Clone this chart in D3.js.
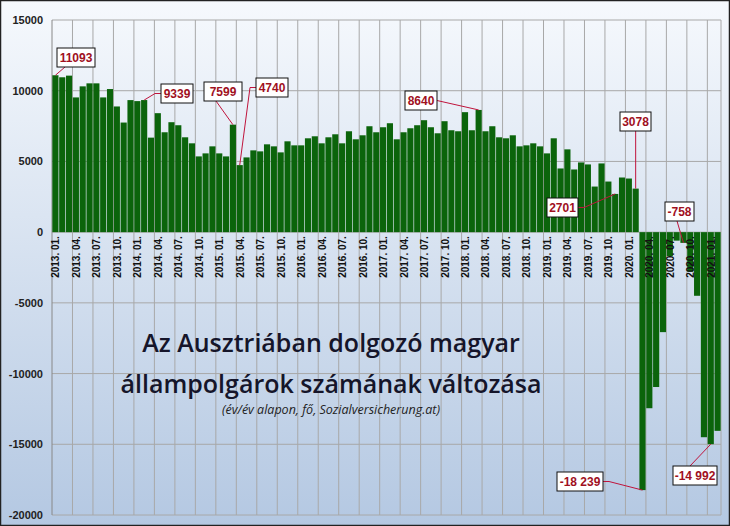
<!DOCTYPE html>
<html><head><meta charset="utf-8">
<script src="https://cdn.jsdelivr.net/npm/d3@7"></script>
<style>body{margin:0;background:#fff}svg{display:block}</style></head>
<body><svg id="c" width="730" height="526"></svg>
<script>
const positives = [11093,10950,11066,9526,10308,10521,10521,9526,10118,8886,7749,9336,9265,9339,6682,8412,7062,7773,7559,6706,6280,5355,5569,6066,5569,5355,7599,4740,5284,5782,5711,6209,6066,5640,6422,6137,6137,6635,6777,6280,6706,6919,6280,7133,6564,6848,7488,7062,7417,7701,6564,7062,7346,7559,7915,7417,6990,7844,7204,7133,8483,7204,8640,7133,7488,6706,6635,6848,6066,6137,6280,6066,5569,6635,4502,5853,4431,4929,4787,3223,4858,3578,2701,3863,3791,3078];
const negatives = [-18239,-12450,-10950,-7070,-1700,-600,-758,-2800,-4500,-14500,-14992,-14050];
const values = positives.concat(negatives);
const months = values.map((v,i)=>{const y=2013+Math.floor(i/12), m=i%12+1; return y+". "+String(m).padStart(2,"0")+".";});
const yTicks = [15000,10000,5000,0,-5000,-10000,-15000,-20000];
const callouts = [
 {i:0,text:"11093",bx:57,by:48,bw:38,ax:"bl"},
 {i:13,text:"9339",bx:161,by:84,bw:32,ax:"l"},
 {i:26,text:"7599",bx:204,by:82,bw:38,ax:"b"},
 {i:27,text:"4740",bx:256,by:78,bw:32,ax:"lel"},
 {i:62,text:"8640",bx:405,by:91,bw:32,ax:"r"},
 {i:85,text:"3078",bx:620,by:112,bw:31,ax:"bv"},
 {i:82,text:"2701",bx:547,by:198,bw:31,ax:"r"},
 {i:92,text:"-758",bx:665,by:202,bw:29,ax:"b"},
 {i:86,text:"-18 239",bx:557,by:472,bw:46,ax:"r"},
 {i:96,text:"-14 992",bx:673,by:466,bw:44,ax:"t"}
];

const svg = d3.select("#c");
const defs = svg.append("defs");
const g = defs.append("linearGradient").attr("id","bg").attr("x1",0).attr("y1",0).attr("x2",0).attr("y2",1);
g.append("stop").attr("offset","0%").attr("stop-color","#f6f9fd");
g.append("stop").attr("offset","100%").attr("stop-color","#b4c8e2");
svg.append("rect").attr("x",0.5).attr("y",0.5).attr("width",729).attr("height",525).attr("fill","url(#bg)").attr("stroke","#222").attr("stroke-width",1.5);

const L=52,R=721;
const x = d3.scaleBand().domain(d3.range(values.length)).range([L,R]).paddingInner(0.1).paddingOuter(0.05);
const y = d3.scaleLinear().domain([-20000,15000]).range([515,20]);
const step = x.step();

svg.append("g").selectAll("line").data(yTicks).join("line")
 .attr("x1",L).attr("x2",R).attr("y1",d=>y(d)).attr("y2",d=>y(d)).attr("stroke","#a8a8a8");
const vg = d3.range(3,values.length,3);
svg.append("g").selectAll("line").data(vg.concat([values.length])).join("line")
 .attr("x1",d=>d<values.length?x(d)-step*0.05:R).attr("x2",d=>d<values.length?x(d)-step*0.05:R)
 .attr("y1",y(15000)).attr("y2",y(-20000)).attr("stroke","#a8a8a8");
svg.append("line").attr("x1",L).attr("x2",L).attr("y1",y(15000)).attr("y2",y(-20000)).attr("stroke","#888");

svg.append("g").selectAll("rect").data(values).join("rect")
 .attr("x",(d,i)=>x(i)).attr("width",x.bandwidth())
 .attr("y",d=>y(Math.max(0,d))).attr("height",d=>Math.abs(y(d)-y(0)))
 .attr("fill","#0b640b");

svg.append("g").selectAll("text").data(yTicks).join("text")
 .attr("x",43).attr("y",d=>y(d)+4).attr("text-anchor","end")
 .attr("font-family","Liberation Sans, Arial, sans-serif").attr("font-size",11).attr("font-weight","bold").attr("fill","#222")
 .text(d=>d);

svg.append("g").selectAll("text").data(d3.range(0,values.length,3)).join("text")
 .attr("transform",i=>`translate(${x(i)+x.bandwidth()/2+4},${y(0)+4}) rotate(-90)`)
 .attr("text-anchor","end")
 .attr("font-family","Liberation Sans, Arial, sans-serif").attr("font-size",10).attr("font-weight","bold").attr("fill","#111")
 .text(i=>months[i]);

const cg = svg.append("g");
callouts.forEach(c=>{
  const px = x(c.i)+x.bandwidth()/2, py = y(values[c.i]);
  const bh=19, cx=c.bx+c.bw/2, cy=c.by+bh/2;
  let pts;
  if(c.ax==="bl") pts=[[px,py],[c.bx+8,c.by+bh]];
  else if(c.ax==="l") pts=[[px,py],[c.bx-6,cy],[c.bx,cy]];
  else if(c.ax==="b") pts=[[c.bx+12,c.by+bh],[px,py]];
  else if(c.ax==="lel") pts=[[c.bx,cy],[c.bx-6,cy],[px,py]];
  else if(c.ax==="r") pts=(values[c.i]>0 && c.bx>px)?[[c.bx+c.bw,cy],[px,py]]:[[c.bx+c.bw,cy],[c.bx+c.bw+6,cy],[px,py]];
  else if(c.ax==="bv") pts=[[px,c.by+bh],[px,py]];
  else if(c.ax==="t") pts=[[cx-5,c.by],[px,py]];
  if(c.i===62) pts=[[c.bx+c.bw,cy],[px,py]];
  cg.append("path").attr("d",d3.line()(pts)).attr("fill","none").attr("stroke","#c0143c").attr("stroke-width",1);
  cg.append("rect").attr("x",c.bx).attr("y",c.by).attr("width",c.bw).attr("height",bh).attr("fill","#fff").attr("stroke","#111");
  cg.append("text").attr("x",cx).attr("y",cy+4).attr("text-anchor","middle")
   .attr("font-family","Liberation Sans, Arial, sans-serif").attr("font-size",12).attr("font-weight","bold").attr("fill","#a0101e").text(c.text);
});

const t = svg.append("g").attr("font-family","Open Sans, Noto Sans, sans-serif").attr("fill","#15152a").attr("text-anchor","middle");
t.append("text").attr("x",331).attr("y",352).attr("font-size",25).attr("font-weight",600).text("Az Ausztriában dolgozó magyar");
t.append("text").attr("x",331).attr("y",393).attr("font-size",25).attr("font-weight",600).text("állampolgárok számának változása");
t.append("text").attr("x",331).attr("y",414).attr("font-size",12.5).attr("font-style","italic").attr("font-weight",400).attr("fill","#222").text("(év/év alapon, fő, Sozialversicherung.at)");
</script></body></html>
